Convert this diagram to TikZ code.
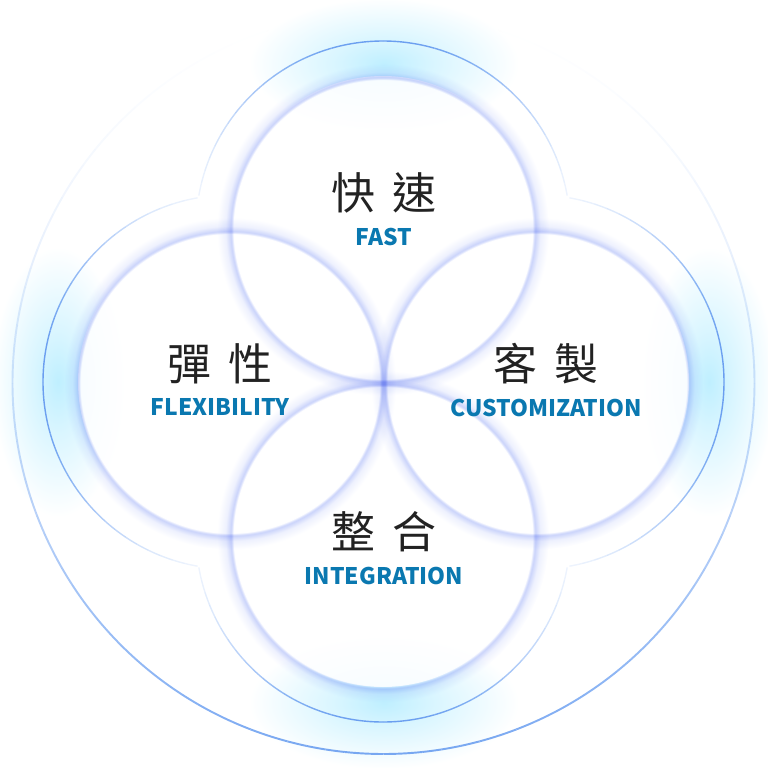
\documentclass[tikz,border=0pt]{standalone}
\usepackage{fontspec}
\newfontfamily\zhfont{Noto Sans CJK TC}
\newfontfamily\enfont{Noto Sans CJK TC}
\usetikzlibrary{positioning, calc}
\definecolor{ringblue}{HTML}{6A9EF0}
\definecolor{glowcyan}{HTML}{BFEFFF}
\definecolor{rimlav}{HTML}{A9B8F8}
\definecolor{textblue}{HTML}{0A78B0}
\definecolor{textdark}{HTML}{222222}
\pgfdeclareradialshading{tipglow}{\pgfpointorigin}{color(0bp)=(glowcyan); color(9bp)=(glowcyan!60!white); color(25bp)=(white); color(50bp)=(white)}
\pgfdeclareradialshading{rimglow}{\pgfpointorigin}{color(0bp)=(white); color(22.5bp)=(white); color(22.9bp)=(rimlav!62!white); color(23.7bp)=(rimlav!20!white); color(25bp)=(white); color(50bp)=(white)}
\tikzset{
    petal/.style = {fill=white, fill opacity=0.85},
    rim/.style = {shading=rimglow, blend mode=multiply},
    tip/.style = {shading=tipglow, blend mode=multiply},
    clover/.style = {ringblue, line width=0.8pt},
    bigring/.style = {ringblue, line width=1.1pt},
    zh/.style = {font=\zhfont\fontsize{25}{25}\selectfont, text=textdark, inner sep=0pt},
    en/.style = {font=\enfont\bfseries\fontsize{13}{13}\selectfont, text=textblue, inner sep=0pt}
}
\begin{document}
\begin{tikzpicture}[x=0.02cm, y=-0.02cm, node distance=0.28cm]
  \useasboundingbox (0,0) rectangle (768,768);
  \coordinate (T) at (383,228);
  \coordinate (L) at (230,382);
  \coordinate (R) at (537,382);
  \coordinate (B) at (383,535);
  \coordinate (O) at (383.5,383);

  % glow at the four tips
  \path[tip] (384,64) ellipse[x radius=135, y radius=66];
  \path[tip] (58,382) ellipse[x radius=66, y radius=135];
  \path[tip] (709,382) ellipse[x radius=66, y radius=135];
  \path[tip] (384,703) ellipse[x radius=135, y radius=66];

  % the four circles
  \foreach \c in {T,L,R,B}
    \fill[petal] (\c) circle[radius=152];
  \foreach \c in {T,L,R,B}
    \path[rim] ($(\c)+(0,1.5)$) circle[radius=166];

  % clover outline
  \foreach \c/\dir in {T/270,L/180,R/0,B/90}
    \foreach \o in {-80,-76,...,76} {
      \pgfmathsetmacro\op{0.08+0.92*cos(\o+2)^2}
      \draw[clover, draw opacity=\op] (\c) ++(\dir+\o:187) arc[start angle=\dir+\o, end angle=\dir+\o+4, radius=187];
    }

  % big circle
  \foreach \a in {0,3,...,357} {
    \pgfmathsetmacro\op{0.9*((1+sin(\a+1.5))/2)^1.6}
    \draw[bigring, draw opacity=\op] (O) ++(\a:371) arc[start angle=\a, end angle=\a+3, radius=371];
  }

  % labels
  \node[zh] (fastzh) at (384,193) {快\hspace{0.4em}速};
  \node[en, below=of fastzh] (fasten) {FAST};
  \node[zh] (flexzh) at (220,364) {彈\hspace{0.4em}性};
  \node[en, below=of flexzh] (flexen) {FLEXIBILITY};
  \node[zh] (custzh) at (546,364) {客\hspace{0.4em}製};
  \node[en, below=of custzh] (custen) {CUSTOMIZATION};
  \node[zh] (integzh) at (384,532) {整\hspace{0.4em}合};
  \node[en, below=of integzh] (integen) {INTEGRATION};
\end{tikzpicture}
\end{document}
